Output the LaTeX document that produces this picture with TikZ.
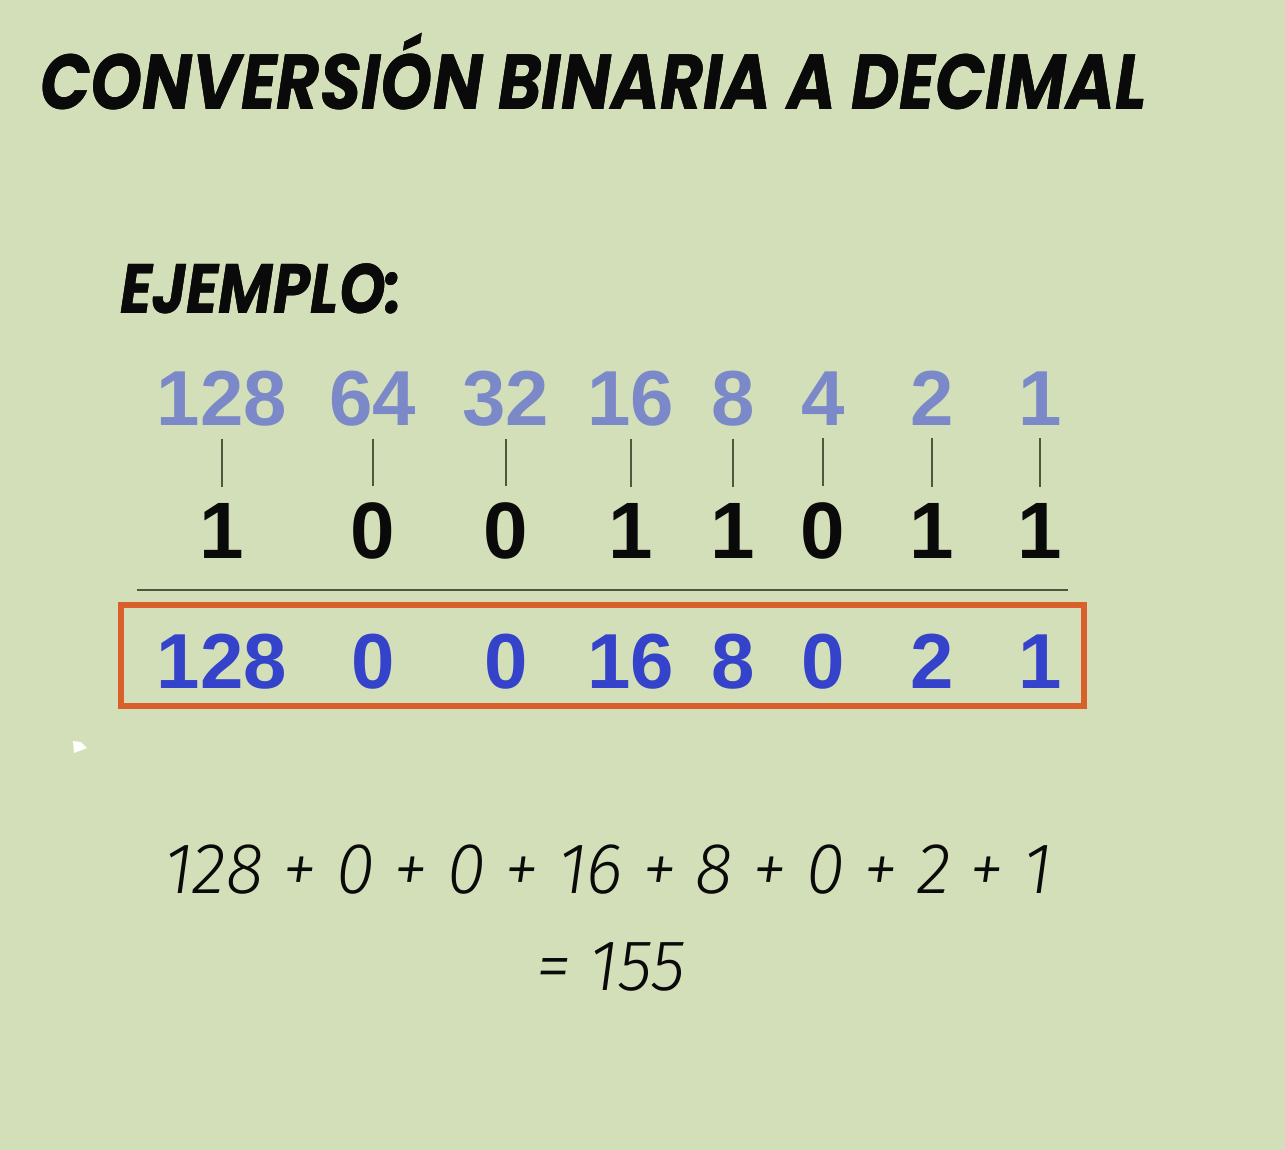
\documentclass[tikz,border=0pt]{standalone}
\usepackage{fontspec}
\usepackage{pdfrender}
\setmainfont{Liberation Sans}
\newfontfamily\headfont{Poppins}[FakeStretch=0.85]
\newfontfamily\sumfont{Fira Sans Light Italic}[FakeStretch=0.97]
\usetikzlibrary{positioning}
\definecolor{BinPaper}{HTML}{D3DFB8}
\definecolor{BinInk}{HTML}{0A0A0A}
\definecolor{BinGlow}{HTML}{F3F6E2}
\definecolor{BinWeight}{HTML}{7B89C9}
\definecolor{BinValue}{HTML}{3443C9}
\definecolor{BinBox}{HTML}{D9602B}
\definecolor{BinRule}{HTML}{4B5A3C}
\newcommand\glowtext[1]{\rlap{\textpdfrender{TextRenderingMode=Stroke,LineWidth=6,LineJoin=1,StrokeColor=BinGlow}{#1}}#1}
\tikzset{
  every node/.style={inner sep=0pt, anchor=base},
  heading/.style={font=\headfont\bfseries\itshape\fontsize{#1}{#1}\selectfont, text=BinInk, anchor=base west},
  weight/.style={font=\bfseries\fontsize{78}{78}\selectfont, text=BinWeight},
  bit/.style={font=\bfseries\fontsize{80}{80}\selectfont, text=BinInk},
  value/.style={font=\bfseries\fontsize{78}{78}\selectfont, text=BinValue},
  sumline/.style={font=\sumfont\fontsize{72}{72}\selectfont, text=BinInk},
  tick/.style={draw=BinRule, line width=1.3pt, shorten <=13pt, shorten >=16pt},
  rule/.style={draw=BinRule, line width=2pt},
  resultbox/.style={draw=BinBox, line width=6pt},
}

\begin{document}
\begin{tikzpicture}[x=1pt,y=-1pt]
  \fill[BinPaper] (0,0) rectangle (1285,1150);
  \useasboundingbox (0,0) rectangle (1285,1150);
  \node[heading=78] (title) at (40,110) {\glowtext{CONVERSIÓN BINARIA A DECIMAL}};
  \node[heading=70] (example) at (120,313) {\glowtext{EJEMPLO:}};
  % columns: x / weight / bit / value
  \foreach \i/\x/\w/\b/\v in {1/222/128/1/128, 2/373/64/0/0, 3/506/32/0/0, 4/631/16/1/16,
                              5/733/8/1/8, 6/823/4/0/0, 7/932/2/1/2, 8/1040/1/1/1}{
    \node[weight] (w\i) at (\x,425) {\w};
    \node[bit] (b\i) at (\x,558) {\b};
    \node[value] (v\i) at (\x,688) {\v};
    \draw[tick] (w\i) -- (b\i);
  }
  \draw[rule] (137,590) -- (1068,590);
  \draw[resultbox] (121,605) rectangle (1084,706);
  \node[sumline] (sum) at (608,893) {128 + 0 + 0 + 16 + 8 + 0 + 2 + 1};
  \node[sumline] (total) at (611,990) {= 155};
  % stray white marks
  \fill[white] (73,741) -- (81,742) -- (87,748) -- (74,753) -- cycle;
  \fill[white] (8,1150) arc[start angle=180, end angle=0, x radius=14, y radius=4] -- cycle;
\end{tikzpicture}
\end{document}
